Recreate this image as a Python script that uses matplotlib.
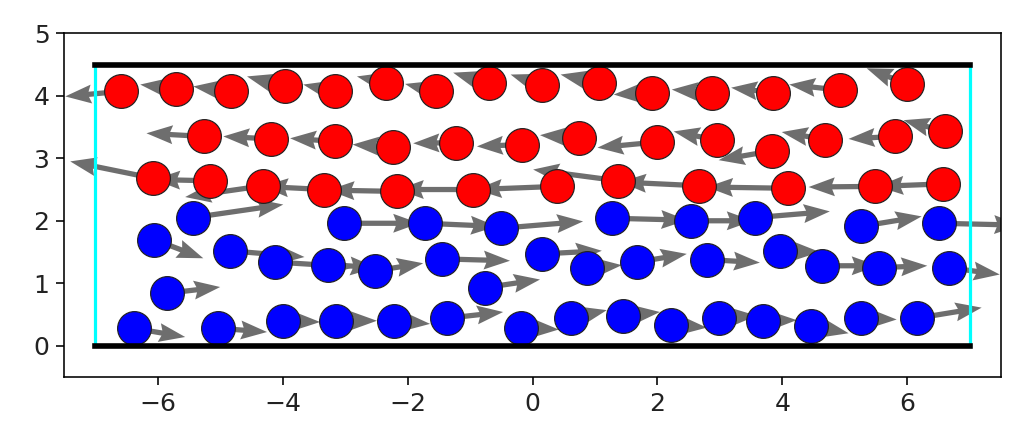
import matplotlib
matplotlib.use("Agg")
import matplotlib.pyplot as plt
import numpy as np

# ---- data ----
red_x = [-6.59, -5.71, -4.82, -3.96, -3.16, -2.35, -1.55, -0.70, 0.16, 1.06, 1.92, 2.87, 3.85, 4.93, 6.00,
         -5.26, -4.19, -3.16, -2.23, -1.23, -0.17, 0.74, 2.00, 2.95, 3.84, 4.68, 5.80, 6.60,
         -6.07, -5.16, -4.31, -3.33, -2.17, -0.96, 0.39, 1.37, 2.67, 4.09, 5.48, 6.57]
red_y = [4.07, 4.11, 4.07, 4.15, 4.07, 4.21, 4.07, 4.20, 4.17, 4.21, 4.05, 4.05, 4.05, 4.09, 4.19,
         3.35, 3.31, 3.27, 3.18, 3.25, 3.22, 3.33, 3.26, 3.29, 3.12, 3.30, 3.35, 3.43,
         2.68, 2.64, 2.56, 2.50, 2.47, 2.50, 2.55, 2.64, 2.56, 2.52, 2.55, 2.59]
red_u = [-0.89, -0.57, -0.61, -0.61, -0.51, -0.46, -0.49, -0.57, -0.51, -0.61, -0.62, -0.64, -0.67, -0.82, -0.65,
         -0.92, -0.76, -0.72, -0.65, -0.68, -0.72, -0.62, -0.96, -0.69, -0.86, -0.69, -0.74, -0.66,
         -1.33, -0.90, -1.25, -1.00, -1.10, -1.20, -1.30, -1.36, -1.27, -1.30, -1.06, -1.05]
red_v = [-0.08, 0.07, 0.08, 0.16, 0.11, 0.10, 0.12, 0.17, 0.17, 0.13, -0.03, 0.05, 0.08, 0.09, 0.25,
         0.05, 0.04, 0.05, 0.04, -0.01, -0.03, 0.04, -0.09, 0.14, -0.15, 0.12, -0.04, 0.18,
         0.27, 0.02, -0.18, 0.05, 0.02, 0.00, -0.05, 0.18, 0.06, 0.02, -0.01, -0.04]

blue_x = [-5.44, -3.01, -1.72, -0.51, 1.28, 2.53, 3.56, 5.26, 6.51,
          -6.06, -4.85, -4.13, -3.28, -2.52, -1.45, 0.16, 0.88, 1.68, 2.80, 3.96, 4.63, 5.54, 6.66,
          -5.85, -0.76,
          -6.38, -5.03, -4.00, -3.15, -2.22, -1.37, -0.18, 0.61, 1.45, 2.22, 2.99, 3.69, 4.46, 5.26, 6.15]
blue_y = [2.05, 1.96, 1.96, 1.88, 2.04, 2.00, 2.05, 1.91, 1.96,
          1.70, 1.52, 1.34, 1.30, 1.20, 1.39, 1.47, 1.24, 1.34, 1.38, 1.52, 1.28, 1.25, 1.25,
          0.84, 0.93,
          0.28, 0.28, 0.40, 0.40, 0.40, 0.44, 0.29, 0.44, 0.48, 0.34, 0.45, 0.40, 0.32, 0.44, 0.44]
blue_u = [1.45, 1.20, 1.15, 1.32, 1.20, 1.00, 1.20, 0.97, 1.30,
          0.79, 1.20, 1.28, 0.78, 0.77, 1.09, 0.95, 0.55, 0.79, 0.84, 0.64, 0.90, 0.78, 0.82,
          0.85, 0.88,
          0.82, 0.78, 0.60, 0.66, 0.58, 0.90, 0.60, 0.58, 0.59, 0.57, 0.60, 0.54, 0.60, 0.57, 1.04]
blue_v = [0.21, 0.00, -0.05, 0.11, -0.03, 0.00, 0.10, 0.16, -0.03,
          -0.30, -0.10, -0.08, -0.05, 0.12, -0.03, 0.05, 0.05, 0.13, -0.05, -0.02, 0.00, 0.03, -0.11,
          0.10, 0.13,
          -0.14, -0.06, -0.02, 0.00, -0.05, 0.10, -0.03, 0.13, 0.06, -0.05, 0.03, 0.01, -0.12, -0.02, 0.17]

wall_x = [-7, 7]
wall_bottom, wall_top = 0, 4.5

x_ticks = [-6, -4, -2, 0, 2, 4, 6]
y_ticks = [0, 1, 2, 3, 4, 5]

# ---- figure ----
plt.rcParams['font.size'] = 12.5
plt.rcParams['xtick.major.size'] = 3.8
plt.rcParams['ytick.major.size'] = 3.8
plt.rcParams['text.color'] = '#222222'
plt.rcParams['xtick.labelcolor'] = '#222222'
plt.rcParams['ytick.labelcolor'] = '#222222'
fig = plt.figure(figsize=(1032 / 144, 438 / 144), dpi=144)
ax = fig.add_axes([64 / 1032, 1 - 377 / 438, (1001 - 64) / 1032, (377 - 33.3) / 438])

qkw = dict(angles='xy', scale_units='xy', scale=1, color='#6e6e6e',
           width=0.0056, headwidth=3.6, headlength=5, headaxislength=4.5, zorder=1)
ax.quiver(red_x, red_y, red_u, red_v, **qkw)
ax.quiver(blue_x, blue_y, blue_u, blue_v, **qkw)

ax.scatter(red_x, red_y, s=285, c='#ff0000', edgecolors='#222222', linewidths=0.6, zorder=2)
ax.scatter(blue_x, blue_y, s=285, c='#0000ff', edgecolors='#222222', linewidths=0.6, zorder=2)

for xv in wall_x:
    ax.plot([xv, xv], [wall_bottom, wall_top], color='#00ffff', lw=1.6, zorder=3)
for yv in (wall_bottom, wall_top):
    ax.plot(wall_x, [yv, yv], color='black', lw=2.8, zorder=4, solid_capstyle='projecting')

ax.set_xlim(-7.5, 7.5)
ax.set_ylim(-0.5, 5)
ax.set_xticks(x_ticks)
ax.set_yticks(y_ticks)

fig.savefig("out.png", dpi=144)
